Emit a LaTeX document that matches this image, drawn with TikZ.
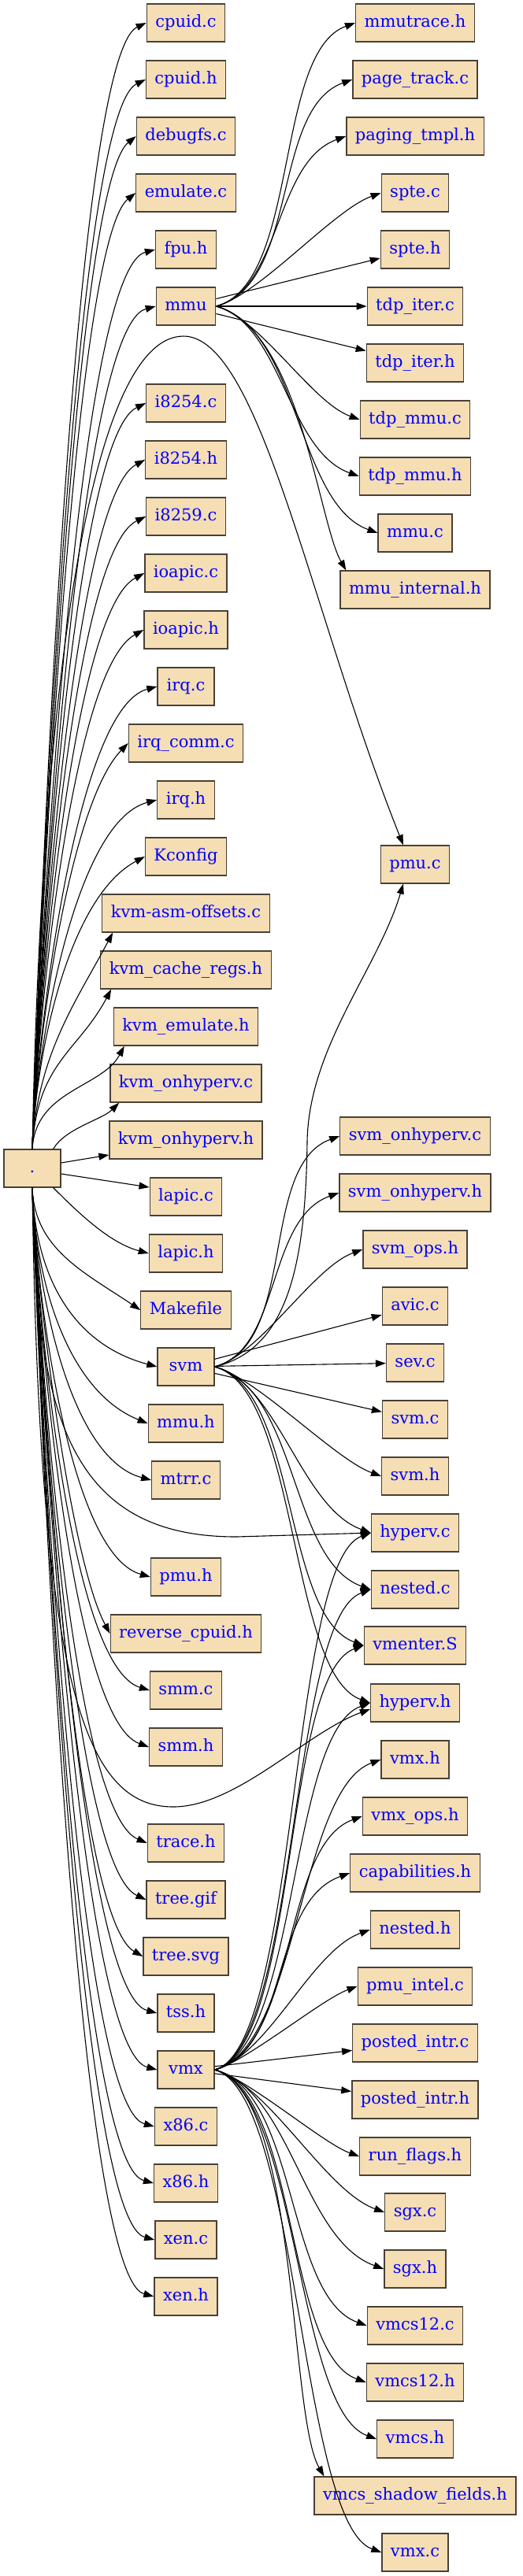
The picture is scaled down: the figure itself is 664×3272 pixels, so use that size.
\documentclass[tikz,border=0pt]{standalone}
\usepackage{fontspec}
\newfontfamily\treefont{DejaVu Serif}
\usetikzlibrary{arrows.meta}
\definecolor{Wheat}{RGB}{245,222,179}
\definecolor{BoxLine}{RGB}{72,64,54}
\definecolor{LabelBlue}{RGB}{0,0,255}

\tikzset{
  file/.style={draw=BoxLine, line width=1.3pt, fill=Wheat, text=LabelBlue,
    font=\treefont\fontsize{21}{25}\selectfont, minimum width=72pt,
    minimum height=48pt, inner xsep=11pt, inner ysep=0pt,
    text height=16pt, text depth=5pt},
  link/.style={-{Triangle[length=13pt,width=9pt]}, line width=1.1pt, black}
}

\begin{document}
\begin{tikzpicture}[x=1pt, y=1pt]
    \fill[white] (0,0) rectangle (664,-3272);
    \useasboundingbox (0,0) rectangle (664,-3272);

    % root
    \node[file] (root) at (41,-1484) {.};

    % first level
    \foreach \nm/\txt/\yy in {cpuidc/cpuid.c/29, cpuidh/cpuid.h/101,
        debugfsc/debugfs.c/173, emulatec/emulate.c/245, fpuh/fpu.h/317,
        mmu/mmu/389, i8254c/i8254.c/512, i8254h/i8254.h/584,
        i8259c/i8259.c/656, ioapicc/ioapic.c/728, ioapich/ioapic.h/800,
        irqc/irq.c/872, irqcommc/irq\_comm.c/944, irqh/irq.h/1016,
        kconfig/Kconfig/1088, kvmasmoffsetsc/kvm-asm-offsets.c/1160,
        kvmcacheregsh/kvm\_cache\_regs.h/1232, kvmemulateh/kvm\_emulate.h/1304,
        kvmonhypervc/kvm\_onhyperv.c/1376, kvmonhypervh/kvm\_onhyperv.h/1448,
        lapicc/lapic.c/1520, lapich/lapic.h/1592, makefile/Makefile/1664,
        svm/svm/1736, mmuh/mmu.h/1808, mtrrc/mtrr.c/1880, pmuh/pmu.h/2003,
        reversecpuidh/reverse\_cpuid.h/2075, smmc/smm.c/2147, smmh/smm.h/2219,
        traceh/trace.h/2341, treegif/tree.gif/2413, treesvg/tree.svg/2485,
        tssh/tss.h/2557, vmx/vmx/2629, x86c/x86.c/2701, x86h/x86.h/2773,
        xenc/xen.c/2845, xenh/xen.h/2917}
      \node[file] (\nm) at (236,-\yy) {\txt};

    % second level
    \foreach \nm/\txt/\yy in {mmutraceh/mmutrace.h/29,
        pagetrackc/page\_track.c/101, pagingtmplh/paging\_tmpl.h/173,
        sptec/spte.c/245, spteh/spte.h/317, tdpiterc/tdp\_iter.c/389,
        tdpiterh/tdp\_iter.h/461, tdpmmuc/tdp\_mmu.c/533,
        tdpmmuh/tdp\_mmu.h/605, mmuc/mmu.c/677,
        mmuinternalh/mmu\_internal.h/749, pmuc/pmu.c/1098,
        svmonhypervc/svm\_onhyperv.c/1443, svmonhypervh/svm\_onhyperv.h/1515,
        svmopsh/svm\_ops.h/1587, avicc/avic.c/1659, sevc/sev.c/1731,
        svmc/svm.c/1803, svmh/svm.h/1875, hypervc/hyperv.c/1947,
        nestedc/nested.c/2019, vmenters/vmenter.S/2090, hypervh/hyperv.h/2163,
        vmxh/vmx.h/2235, vmxopsh/vmx\_ops.h/2307,
        capabilitiesh/capabilities.h/2379, nestedh/nested.h/2451,
        pmuintelc/pmu\_intel.c/2523, postedintrc/posted\_intr.c/2595,
        postedintrh/posted\_intr.h/2667, runflagsh/run\_flags.h/2739,
        sgxc/sgx.c/2810, sgxh/sgx.h/2882, vmcs12c/vmcs12.c/2954,
        vmcs12h/vmcs12.h/3026, vmcsh/vmcs.h/3098,
        vmcsshadowfieldsh/vmcs\_shadow\_fields.h/3170, vmxc/vmx.c/3242}
      \node[file] (\nm) at (527,-\yy) {\txt};

    % root -> files above
    \foreach \nm/\dout/\ain/\din in {cpuidc/120/205/110, cpuidh/120/206/110,
        debugfsc/120/219/110, emulatec/120/219/110, fpuh/120/195/110,
        mmu/120/195/110, i8254c/120/206/110, i8254h/120/208/110,
        i8259c/120/206/110, ioapicc/120/208/110, ioapich/120/209/110,
        irqc/120/195/110, irqcommc/120/226/110, irqh/120/195/110,
        kconfig/120/208/110}
      \draw[link] (root.north) .. controls +(88:\dout) and +(\ain:\din) .. (\nm.west);
    \foreach \nm/\dout/\din in {kvmasmoffsetsc/120/100, kvmcacheregsh/110/90,
        kvmemulateh/75/60}
      \draw[link] (root.north) .. controls +(87:\dout) and +(242:\din) .. ([xshift=14pt]\nm.south west);

    % root -> files below
    \foreach \nm/\dout/\ain/\din in {makefile/78/146/86, svm/114/165/110,
        mmuh/120/158/110, mtrrc/120/165/110, pmuh/120/164/110,
        reversecpuidh/120/118/110, smmc/120/163/110, smmh/120/160/110,
        traceh/120/157/110, treegif/120/155/110, treesvg/120/150/110,
        tssh/120/165/110, vmx/120/165/110, x86c/120/165/110,
        x86h/120/165/110, xenc/120/165/110, xenh/120/165/110}
      \draw[link] (root.south) .. controls +(-88:\dout) and +(\ain:\din) .. (\nm.west);

    % root -> close neighbours
    \draw[link] ([xshift=-10pt]root.north east) .. controls +(60:30) and +(225:30) .. ([xshift=12pt]kvmonhypervc.south west);
    \draw[link] ([yshift=7pt]root.east) -- ([yshift=-19pt]kvmonhypervh.west);
    \draw[link] ([yshift=-7pt]root.east) -- ([yshift=12pt]lapicc.west);
    \draw[link] ([xshift=-10pt]root.south east) .. controls +(-45:50) and +(165:50) .. (lapich.west);

    % root -> files shared with subfolders
    \draw[link] (root.north) .. controls (52,-900) and (110,-427) .. (233,-427)
      .. controls (330,-427) and (395,-780) .. ([xshift=-15pt]pmuc.north);
    \draw[link] (root.south) .. controls (45,-1800) and (90,-1952) .. (300,-1952) -- (hypervc.west);
    \draw[link] (root.south) .. controls (50,-2150) and (110,-2295) .. (220,-2295)
      .. controls (300,-2295) and (390,-2200) .. ([yshift=-8pt]hypervh.west);

    % mmu
    \foreach \nm/\dout/\din in {mmutraceh/110/110, pagetrackc/110/110,
        pagingtmplh/86/97, sptec/58/65}
      \draw[link] (mmu.east) .. controls +(15:\dout) and +(200:\din) .. (\nm.west);
    \foreach \nm in {spteh, tdpiterc, tdpiterh}
      \draw[link] (mmu) -- (\nm);
    \foreach \nm/\dout/\din in {tdpmmuc/58/65, tdpmmuh/86/97, mmuc/110/110}
      \draw[link] (mmu.east) .. controls +(-15:\dout) and +(160:\din) .. (\nm.west);
    \draw[link] (mmu.east) .. controls +(-15:110) and +(120:70) .. ([xshift=8pt]mmuinternalh.north west);

    % svm
    \foreach \nm/\dout/\din in {svmonhypervc/110/110, svmonhypervh/88/99,
        svmopsh/60/67}
      \draw[link] (svm.east) .. controls +(15:\dout) and +(200:\din) .. (\nm.west);
    \foreach \nm in {avicc, sevc, svmc}
      \draw[link] (svm) -- (\nm);
    \foreach \nm/\dout/\din in {svmh/56/63, hypervc/84/95, nestedc/110/110,
        vmenters/110/110, hypervh/110/110}
      \draw[link] (svm.east) .. controls +(-15:\dout) and +(160:\din) .. (\nm.west);
    \draw[link] (svm.east) .. controls (360,-1715) and (388,-1620) .. (390,-1450)
      .. controls (392,-1330) and (480,-1230) .. ([xshift=-15pt]pmuc.south);

    % vmx
    \foreach \nm/\dout/\din in {hypervc/110/110, nestedc/110/110,
        vmenters/110/110, hypervh/110/110, vmxh/110/110, vmxopsh/110/110,
        capabilitiesh/100/110, nestedh/71/80, pmuintelc/42/48}
      \draw[link] (vmx.east) .. controls +(15:\dout) and +(200:\din) .. (\nm.west);
    \foreach \nm in {postedintrc, postedintrh}
      \draw[link] (vmx) -- (\nm);
    \foreach \nm/\dout/\din in {runflagsh/44/50, sgxc/72/81, sgxh/101/110,
        vmcs12c/110/110, vmcs12h/110/110, vmcsh/110/110, vmxc/110/110}
      \draw[link] (vmx.east) .. controls +(-15:\dout) and +(160:\din) .. (\nm.west);
    \draw[link] (vmx.east) .. controls +(-15:110) and +(120:90) .. ([xshift=13pt]vmcsshadowfieldsh.north west);
\end{tikzpicture}
\end{document}
